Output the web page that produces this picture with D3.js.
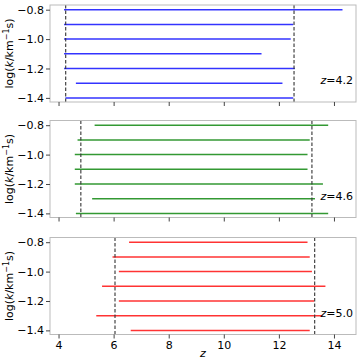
<!DOCTYPE html>
<html><head><meta charset="utf-8">
<script src="https://cdn.jsdelivr.net/npm/d3@7"></script>
<style>body{margin:0;background:#fff;} svg{display:block;font-family:"DejaVu Sans",sans-serif;}</style>
</head><body><svg id="c" width="357" height="360"></svg>
<script>
const kLevels = [-0.8, -0.9, -1.0, -1.1, -1.2, -1.3, -1.4];
const panelLabels = ["4.2", "4.6", "5.0"];
const panelColors = ["#0000ff", "#008000", "#ff0000"];
const zStart42 = [4.2, 4.2, 4.2, 4.2, 4.2, 4.63, 4.25];
const zEnd42   = [14.31, 12.52, 12.43, 11.37, 12.58, 12.13, 12.52];
const zStart46 = [5.31, 4.69, 4.59, 4.59, 4.59, 5.22, 4.63];
const zEnd46   = [13.79, 13.12, 13.04, 13.04, 13.60, 13.31, 13.79];
const zStart50 = [6.56, 5.96, 6.19, 5.58, 6.19, 5.37, 6.62];
const zEnd50   = [13.04, 13.12, 13.20, 13.69, 13.28, 13.58, 13.12];
const dashed = [[4.26, 12.55], [4.81, 13.2], [6.05, 13.3]];
const xTicks = [4, 6, 8, 10, 12, 14];
const yTicks = [-0.8, -1.0, -1.2, -1.4];
const starts = [zStart42, zStart46, zStart50];
const ends = [zEnd42, zEnd46, zEnd50];

const svg = d3.select("#c");
const L = 50, R = 356;
const tops = [5, 120.5, 237.5], H = 97;
const x = d3.scaleLinear().domain([3.69, 14.8]).range([L, R]);

tops.forEach((top, p) => {
  const y = d3.scaleLinear().domain([-0.768, -1.428]).range([top, top + H]);
  const g = svg.append("g");
  // data lines
  kLevels.forEach((k, i) => {
    g.append("line").attr("x1", x(starts[p][i])).attr("x2", x(ends[p][i]))
      .attr("y1", y(k)).attr("y2", y(k))
      .attr("stroke", panelColors[p]).attr("stroke-width", 1.5).attr("stroke-opacity", 0.8);
  });
  dashed[p].forEach(d => {
    g.append("line").attr("x1", x(d)).attr("x2", x(d)).attr("y1", top).attr("y2", top + H)
      .attr("stroke", "#333").attr("stroke-width", 1.1).attr("stroke-dasharray", "3.5,2");
  });
  // frame
  g.append("rect").attr("x", L).attr("y", top).attr("width", R - L).attr("height", H)
    .attr("fill", "none").attr("stroke", "#bbbbbb").attr("stroke-width", 1);
  // y axis
  const ya = g.append("g").attr("transform", `translate(${L},0)`)
    .call(d3.axisLeft(y).tickValues(yTicks).tickSize(4).tickPadding(2)
      .tickFormat(d => d3.format(".1f")(d).replace("-", "\u2212")));
  ya.select(".domain").remove();
  ya.selectAll("line").attr("stroke", "#444");
  ya.selectAll("text").attr("font-size", 11).attr("fill", "#000").attr("font-family", "DejaVu Sans");
  // x axis
  const xa = g.append("g").attr("transform", `translate(0,${top + H})`)
    .call(d3.axisBottom(x).tickValues(xTicks).tickSize(4).tickPadding(3)
      .tickFormat(p === 2 ? d3.format("d") : () => ""));
  xa.select(".domain").remove();
  xa.selectAll("line").attr("stroke", "#444");
  xa.selectAll("text").attr("font-size", 11).attr("fill", "#000").attr("font-family", "DejaVu Sans");
  // label
  const t = g.append("text").attr("x", 353).attr("y", top + H - 18).attr("text-anchor", "end")
    .attr("font-size", 11);
  t.append("tspan").attr("font-style", "italic").text("z");
  t.append("tspan").text("=" + panelLabels[p]);
  // y label
  const yl = g.append("text").attr("transform", `translate(13,${top + H / 2}) rotate(-90)`)
    .attr("text-anchor", "middle").attr("font-size", 11);
  yl.append("tspan").text("log(");
  yl.append("tspan").attr("font-style", "italic").text("k");
  yl.append("tspan").text("/km");
  yl.append("tspan").attr("font-size", 8).attr("dy", -4).text("\u22121");
  yl.append("tspan").attr("dy", 4).text("s)");
});
svg.append("text").attr("x", (L + R) / 2).attr("y", 357).attr("text-anchor", "middle")
  .attr("font-size", 11).attr("font-style", "italic").text("z");
</script></body></html>
